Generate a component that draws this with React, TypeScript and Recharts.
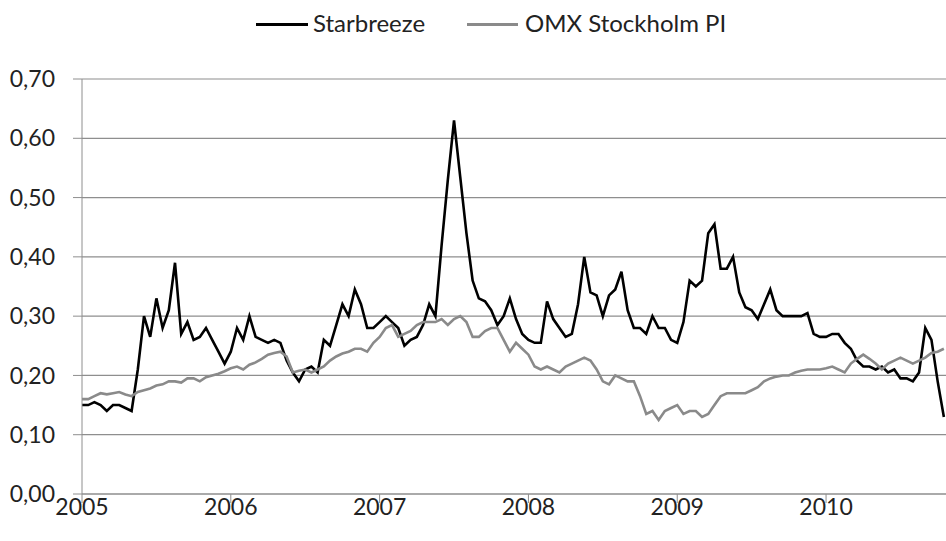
import React from 'react';
import { LineChart, Line, XAxis, YAxis, CartesianGrid, Legend } from 'recharts';

// half-month sampling, Jan 2005 - Oct 2010
const startYear = 2005;
const stepsPerYear = 24;

const starbreeze = [
  0.15, 0.15, 0.155, 0.15, 0.14, 0.15, 0.15, 0.145, 0.14, 0.21, 0.30, 0.265, 0.33, 0.28, 0.31, 0.39,
  0.27, 0.29, 0.26, 0.265, 0.28, 0.26, 0.24, 0.22, 0.24,
  0.28, 0.26, 0.30, 0.265, 0.26, 0.255, 0.26, 0.255, 0.225, 0.205, 0.19, 0.21, 0.215, 0.205, 0.26,
  0.25, 0.285, 0.32, 0.30, 0.345, 0.32, 0.28, 0.28,
  0.29, 0.30, 0.29, 0.28, 0.25, 0.26, 0.265, 0.285, 0.32, 0.30, 0.42, 0.53, 0.63, 0.535, 0.44, 0.36,
  0.33, 0.325, 0.31, 0.285, 0.30, 0.33, 0.295, 0.27,
  0.26, 0.255, 0.255, 0.325, 0.295, 0.28, 0.265, 0.27, 0.32, 0.40, 0.34, 0.335, 0.30, 0.335, 0.345,
  0.375, 0.31, 0.28, 0.28, 0.27, 0.30, 0.28, 0.28, 0.26,
  0.255, 0.29, 0.36, 0.35, 0.36, 0.44, 0.455, 0.38, 0.38, 0.40, 0.34, 0.315, 0.31, 0.295, 0.32, 0.345,
  0.31, 0.30, 0.30, 0.30, 0.30, 0.305, 0.27, 0.265,
  0.265, 0.27, 0.27, 0.255, 0.245, 0.225, 0.215, 0.215, 0.21, 0.215, 0.205, 0.21, 0.195, 0.195, 0.19,
  0.205, 0.28, 0.26, 0.19, 0.13,
];

const omxPI = [
  0.16, 0.16, 0.165, 0.17, 0.168, 0.17, 0.172, 0.168, 0.165, 0.172, 0.175, 0.178, 0.183, 0.185, 0.19,
  0.19, 0.188, 0.195, 0.195, 0.19, 0.197, 0.20, 0.203, 0.207, 0.212,
  0.215, 0.21, 0.218, 0.222, 0.228, 0.235, 0.238, 0.24, 0.232, 0.205, 0.208, 0.21, 0.205, 0.21, 0.215,
  0.225, 0.232, 0.237, 0.24, 0.245, 0.245, 0.24, 0.255,
  0.265, 0.28, 0.285, 0.265, 0.27, 0.275, 0.285, 0.29, 0.29, 0.29, 0.295, 0.285, 0.295, 0.30, 0.29,
  0.265, 0.265, 0.275, 0.28, 0.28, 0.26, 0.24, 0.255, 0.245,
  0.235, 0.215, 0.21, 0.215, 0.21, 0.205, 0.215, 0.22, 0.225, 0.23, 0.225, 0.21, 0.19, 0.185, 0.20,
  0.195, 0.19, 0.19, 0.165, 0.135, 0.14, 0.125, 0.14, 0.145,
  0.15, 0.135, 0.14, 0.14, 0.13, 0.135, 0.15, 0.165, 0.17, 0.17, 0.17, 0.17, 0.175, 0.18, 0.19, 0.195,
  0.198, 0.20, 0.20, 0.205, 0.208, 0.21, 0.21, 0.21,
  0.212, 0.215, 0.21, 0.205, 0.22, 0.228, 0.235, 0.228, 0.22, 0.21, 0.22, 0.225, 0.23, 0.225, 0.22,
  0.225, 0.23, 0.238, 0.24, 0.245,
];

const yearTicks = [2005, 2006, 2007, 2008, 2009, 2010];
const valueTicks = [0, 0.1, 0.2, 0.3, 0.4, 0.5, 0.6, 0.7];

const data = starbreeze.map((v, i) => ({
  t: startYear + i / stepsPerYear,
  starbreeze: v,
  omx: omxPI[i],
}));

const font = 'Lato, "Open Sans", sans-serif';
const gridColor = '#8e8e8e';

const LegendBox = () => (
  <div style={{ position: 'relative', height: 50, width: 946, fontFamily: font, fontSize: 24, color: '#222' }}>
    <div style={{ position: 'absolute', left: 256, top: 23, width: 52, height: 3, background: '#000' }} />
    <span style={{ position: 'absolute', left: 313, top: 8, lineHeight: '30px' }}>Starbreeze</span>
    <div style={{ position: 'absolute', left: 467, top: 23, width: 51, height: 3, background: '#8a8a8a' }} />
    <span style={{ position: 'absolute', left: 525, top: 8, lineHeight: '30px' }}>OMX Stockholm PI</span>
  </div>
);

export default function App() {
  return (
    <div style={{ position: 'fixed', left: 0, top: 0, width: 946, height: 541, background: '#fff' }}>
      <LineChart width={946} height={541} data={data} margin={{ top: 29, right: 0, left: 0, bottom: 0 }}>
        <CartesianGrid vertical={false} stroke={gridColor} strokeWidth={1.2} />
        <XAxis
          dataKey="t"
          type="number"
          domain={[2005, 2010.806]}
          ticks={yearTicks}
          allowDataOverflow
          height={47}
          tickSize={9}
          tickMargin={0}
          stroke={gridColor}
          tick={{ fill: '#222', fontFamily: font, fontSize: 23, dy: -4 }}
          tickFormatter={(v: number) => String(Math.round(v))}
        />
        <YAxis
          domain={[0, 0.7]}
          ticks={valueTicks}
          width={82}
          tickSize={9}
          tickMargin={18}
          stroke={gridColor}
          tick={{ fill: '#222', fontFamily: font, fontSize: 23 }}
          tickFormatter={(v: number) => v.toFixed(2).replace('.', ',')}
        />
        <Legend verticalAlign="top" height={50} wrapperStyle={{ left: 0, top: 0, width: 946 }} content={() => <LegendBox />} />
        <Line type="linear" dataKey="starbreeze" stroke="#000" strokeWidth={2.6} dot={false} isAnimationActive={false} />
        <Line type="linear" dataKey="omx" stroke="#8a8a8a" strokeWidth={2.6} dot={false} isAnimationActive={false} />
      </LineChart>
    </div>
  );
}
